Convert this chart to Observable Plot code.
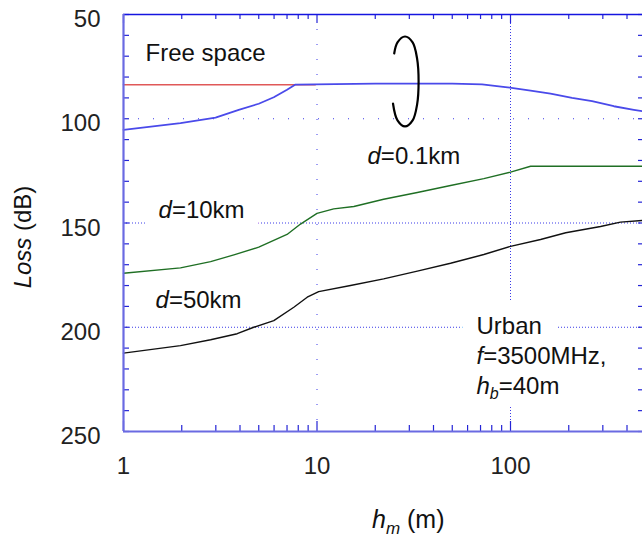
<!DOCTYPE html>
<html><head><meta charset="utf-8">
<script src="https://cdn.jsdelivr.net/npm/d3@7"></script>
<script src="https://cdn.jsdelivr.net/npm/@observablehq/plot@0.6"></script>
<style>
body{margin:0;background:#fff;overflow:hidden}
#chart svg{font-family:"Liberation Sans",Arial,sans-serif}
</style></head><body><div id="chart"></div>
<script>
// axes
const xDomain = [1, 481];
const yDomain = [50, 250];
const xMajor = [1, 10, 100];
const xMajorLabels = ["1", "10", "100"];
const xMinor = [2,3,4,5,6,7,8,9,20,30,40,50,60,70,80,90,200,300,400];
const yTicks = [50,60,70,80,90,100,110,120,130,140,150,160,170,180,190,200,210,220,230,240,250];
const yLabels = [50, 100, 150, 200, 250];
const gridXDense = [100], gridXSparse = [10];
const gridYDense = [150, 200], gridYSparse = [100];

// series
const hmFree = [1, 9.8];
const lossFree = [83.7, 83.7];
const hmBlue = [1, 1.97, 2.99, 3.94, 5.0, 5.98, 7.0, 7.74, 20, 50, 71.3, 94, 127, 161, 208, 264, 342, 434, 481];
const lossBlue = [105.3, 102.1, 99.5, 95.7, 92.8, 89.7, 86.1, 83.6, 83.2, 83.2, 83.5, 84.8, 86.5, 88.0, 90.0, 91.6, 94.0, 95.7, 96.4];
const hmGreen = [1, 1.97, 2.82, 3.72, 5.0, 7.0, 8.22, 10, 12.2, 15.5, 22.1, 33, 49, 72.8, 100, 127, 481];
const lossGreen = [174.1, 171.5, 168.5, 165.3, 161.6, 155.5, 150.5, 145.4, 143.2, 142.1, 138.6, 135.4, 132.0, 128.7, 125.6, 122.8, 122.8];
const hmBlack = [1, 1.97, 2.82, 3.87, 4.71, 5.98, 7.59, 8.9, 10.2, 14.9, 22.1, 33, 49, 72.8, 100, 143, 193, 292, 370, 481];
const lossBlack = [212.4, 208.8, 206.0, 203.1, 200.0, 196.8, 190.4, 185.6, 182.9, 180.0, 176.8, 173.1, 169.3, 165.1, 161.2, 157.9, 154.7, 151.7, 149.6, 148.8];

// annotation ring around the d=0.1km curve
const ringX = [25.06, 26.06, 28.5, 31.2, 32.9, 33.5, 32.9, 31.2, 28.5, 26.06, 24.7];
const ringY = [68.7, 63.4, 60.55, 63.4, 71.1, 82.1, 93.2, 100.8, 103.7, 100.8, 92.7];

// labels
const labelText = ["Free space", "d=0.1km", "d=10km", "d=50km", "Urban", "f=3500MHz,", "hb=40m"];
const labelX = [1.30, 18.24, 1.517, 1.464, 66.7, 66.7, 66.7];
const labelY = [72.1, 121.5, 147.4, 191.0, 203.0, 217.4, 231.8];
const xTitle = "hm (m)";
const yTitle = "Loss (dB)";

const rich = {
  "d=0.1km": '<tspan font-style="italic">d</tspan>=0.1km',
  "d=10km": '<tspan font-style="italic">d</tspan>=10km',
  "d=50km": '<tspan font-style="italic">d</tspan>=50km',
  "f=3500MHz,": '<tspan font-style="italic">f</tspan>=3500MHz,',
  "hb=40m": '<tspan font-style="italic">h</tspan><tspan font-style="italic" font-size="16" dy="5">b</tspan><tspan dy="-5">=40m</tspan>',
  "hm (m)": '<tspan font-style="italic">h</tspan><tspan font-style="italic" font-size="17" dy="6">m</tspan><tspan dy="-6"> (m)</tspan>',
  "Loss (dB)": '<tspan font-style="italic">Loss</tspan> (dB)'
};

const toRows = (xs, ys) => xs.map((x, i) => ({x, y: ys[i]}));
const labels = labelText.map((t, i) => ({t, x: labelX[i], y: labelY[i]}));

const W = 642, Hgt = 536, mL = 123, mR = 0, mT = 14, mB = 105;
const FH = Hgt - mT - mB, FW = W - mL - mR;
const tickC = "#2424d6";

const plot = Plot.plot({
  width: W, height: Hgt,
  marginLeft: mL, marginRight: mR, marginTop: mT, marginBottom: mB,
  x: {type: "log", domain: xDomain, axis: null},
  y: {domain: yDomain, reverse: true, axis: null},
  style: {fontFamily: "'Liberation Sans', Arial, sans-serif", fontSize: "24px", background: "white", overflow: "hidden"},
  marks: [
    // gridlines
    Plot.ruleX(gridXDense, {stroke: "#3a3ae8", strokeDasharray: "1,2", strokeWidth: 1}),
    Plot.ruleX(gridXSparse, {stroke: "#3a3ae8", strokeDasharray: "1,14", strokeWidth: 1}),
    Plot.ruleY(gridYDense, {stroke: "#3a3ae8", strokeDasharray: "1,2", strokeWidth: 1}),
    Plot.ruleY(gridYSparse, {stroke: "#3a3ae8", strokeDasharray: "1,14", strokeWidth: 1}),
    // label halos (white) then label text
    Plot.text(labels, {x: "x", y: "y", text: "t", textAnchor: "start", lineAnchor: "bottom",
      fill: "white", stroke: "white", strokeWidth: 32, strokeLinejoin: "round", fontSize: 24}),
    Plot.text(labels, {x: "x", y: "y", text: "t", textAnchor: "start", lineAnchor: "bottom",
      fill: "#111", fontSize: 24}),
    // curves
    Plot.line(toRows(hmFree, lossFree), {x: "x", y: "y", stroke: "#e05858", strokeWidth: 1.6}),
    Plot.line(toRows(hmBlue, lossBlue), {x: "x", y: "y", stroke: "#4a4aea", strokeWidth: 1.8}),
    Plot.line(toRows(hmGreen, lossGreen), {x: "x", y: "y", stroke: "#1f6f24", strokeWidth: 1.4}),
    Plot.line(toRows(hmBlack, lossBlack), {x: "x", y: "y", stroke: "#111", strokeWidth: 1.4}),
    Plot.line(toRows(ringX, ringY), {x: "x", y: "y", stroke: "#000", strokeWidth: 2.2, curve: "catmull-rom"}),
    // ticks (inward)
    Plot.ruleX(xMinor, {insetTop: FH - 6, stroke: tickC, strokeWidth: 1.2}),
    Plot.ruleX(xMajor, {insetTop: FH - 10, stroke: tickC, strokeWidth: 1.2}),
    Plot.ruleX(xMinor, {insetBottom: FH - 5, stroke: tickC, strokeWidth: 1.2}),
    Plot.ruleX(xMajor, {insetBottom: FH - 9, stroke: tickC, strokeWidth: 1.2}),
    Plot.ruleY(yTicks, {insetRight: FW - 6, stroke: tickC, strokeWidth: 1.2}),
    Plot.ruleY(yTicks, {insetLeft: FW - 4, stroke: tickC, strokeWidth: 1.2}),
    // frame (right edge lies outside the picture)
    Plot.ruleY([yDomain[0]], {stroke: "#1515e0", strokeWidth: 1.6}),
    Plot.ruleX([xDomain[0]], {stroke: "#6a6ae2", strokeWidth: 2.2}),
    Plot.ruleY([yDomain[1]], {stroke: "#6a6ae2", strokeWidth: 2.2}),
    // tick labels
    Plot.text(xMajor, {x: d => d, text: (d, i) => xMajorLabels[i], frameAnchor: "bottom", dy: 35, lineAnchor: "middle", fill: "#222", fontSize: 24}),
    Plot.text(yLabels, {y: d => d, text: d => String(d), frameAnchor: "left", dx: -23, dy: 5, textAnchor: "end", lineAnchor: "middle", fill: "#222", fontSize: 24}),
    // axis titles
    Plot.text([xTitle], {frameAnchor: "bottom", text: d => d, dx: -11, dy: 96, textAnchor: "start", lineAnchor: "bottom", fill: "#111", fontSize: 25}),
    Plot.text([yTitle], {frameAnchor: "left", text: d => d, rotate: -90, dx: -93, dy: 14, textAnchor: "middle", lineAnchor: "bottom", fill: "#111", fontSize: 24})
  ]
});

d3.select(plot).selectAll("text").each(function() {
  const t = this.textContent;
  if (rich[t]) this.innerHTML = rich[t];
});

document.getElementById("chart").append(plot);
</script>
</body></html>
